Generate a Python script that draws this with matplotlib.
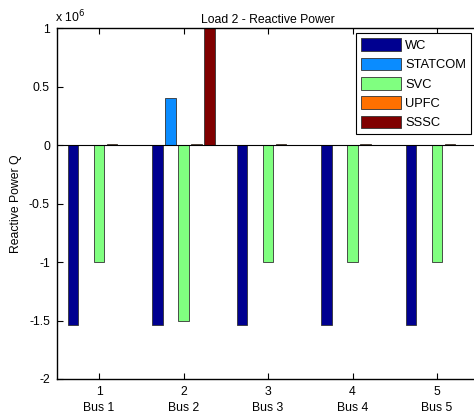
import numpy as np
import matplotlib
matplotlib.use("Agg")
import matplotlib.pyplot as plt
from matplotlib.ticker import FuncFormatter

plt.rcParams["font.family"] = ["Liberation Sans", "DejaVu Sans"]
plt.rcParams["font.size"] = 8.8

# reactive power per bus for each compensation case
buses = [1, 2, 3, 4, 5]
bus_names = ["Bus 1", "Bus 2", "Bus 3", "Bus 4", "Bus 5"]
series = ["WC", "STATCOM", "SVC", "UPFC", "SSSC"]
wc = [-1.54e6, -1.54e6, -1.54e6, -1.54e6, -1.54e6]
statcom = [0.0, 0.40e6, 0.0, 0.0, 0.0]
svc = [-1.0e6, -1.5e6, -1.0e6, -1.0e6, -1.0e6]
upfc = [0.01e6, 0.01e6, 0.01e6, 0.01e6, 0.01e6]
sssc = [0.004e6, 1.0e6, 0.004e6, 0.004e6, 0.004e6]
colors = ["#000090", "#0A8CFF", "#80FF80", "#FF7000", "#800000"]

fig = plt.figure(figsize=(4.74, 4.19), dpi=100)
ax = fig.add_axes([0.120, 0.0955, 0.891, 0.8375])

# matlab style grouped bars
n = len(series)
group_w = min(0.8, n / (n + 1.5))
step = group_w / n
x = np.array(buses, dtype=float)
for i, (vals, c, name) in enumerate(zip([wc, statcom, svc, upfc, sssc], colors, series)):
    ax.bar(x + (i - (n - 1) / 2) * step, vals, width=0.8 * step, color=c,
           edgecolor="#333333", linewidth=0.6, label=name, zorder=2)

ax.axhline(0, color="black", linewidth=0.8, zorder=3)
ax.set_xlim(0.5, 5.5)
ax.set_ylim(-2e6, 1e6)
ax.set_yticks(np.arange(-2e6, 1.01e6, 0.5e6))
ax.yaxis.set_major_formatter(FuncFormatter(lambda v, p: "%g" % (v / 1e6)))
ax.set_xticks(buses)
ax.set_xticklabels([f"{b}\n{nm}" for b, nm in zip(buses, bus_names)], linespacing=1.5)
ax.tick_params(direction="in", top=True, right=False, length=4, width=0.8, pad=5)
for s in ax.spines.values():
    s.set_linewidth(1.0)
ax.spines["right"].set_visible(False)

ax.set_title("Load 2 - Reactive Power", fontsize=8.8, pad=4)
ax.set_ylabel("Reactive Power Q", labelpad=5)
fig.text(0.116, 0.940, r"x 10$^6$", fontsize=8.8, ha="left", va="bottom")

leg = ax.legend(loc="upper right", bbox_to_anchor=(471 / 474, 1 - 33 / 419),
                bbox_transform=fig.transFigure, fancybox=False, framealpha=1,
                edgecolor="black", handlelength=3.1, handleheight=1.15,
                labelspacing=0.43, handletextpad=0.3, borderpad=0.4,
                borderaxespad=0, fontsize=9.3)
leg.get_frame().set_linewidth(0.8)

fig.savefig("out.png", dpi=100)
